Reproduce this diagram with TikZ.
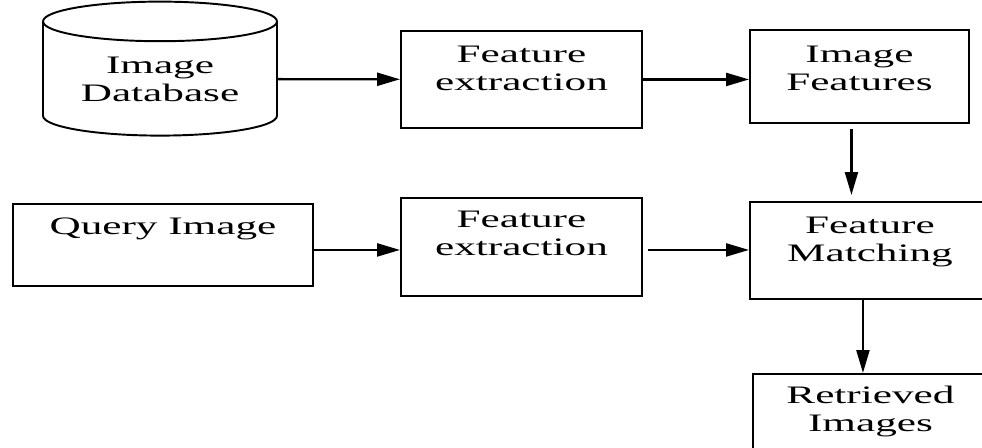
\documentclass[tikz,border=0pt]{standalone}
\usepackage{fontspec}
\newfontfamily\diagfont[FakeStretch=1.72]{Liberation Serif}
\usetikzlibrary{shapes.geometric,arrows.meta}

\begin{document}
\begin{tikzpicture}[x=0.02cm,y=-0.02cm,
  every node/.style={font=\diagfont\fontsize{14.3}{16}\selectfont, align=center, inner sep=0pt, line width=1.1pt},
  box/.style={draw, rectangle, anchor=north west},
  arr/.style={line width=1.3pt, -{Triangle[length=0.46cm,width=0.26cm]}}]
  \useasboundingbox (0,0) rectangle (982,448);
  % upper row
  \node[draw, cylinder, shape border rotate=90, aspect=0.25, minimum width=4.68cm, minimum height=2.68cm] (db) at (160,79) {Image\\Database};
  \node[box, minimum width=4.82cm, text height=1.2cm, text depth=0.74cm] (fe1) at (400,30) {Feature\\extraction};
  \node[box, minimum width=4.38cm, text height=1.22cm, text depth=0.64cm] (feat) at (749,29) {Image\\Features};
  % lower row
  \node[box, minimum width=6cm, text height=0.62cm, text depth=1.02cm] (query) at (12,203) {Query Image};
  \node[box, minimum width=4.82cm, text height=1.16cm, text depth=0.8cm] (fe2) at (400,197) {Feature\\extraction};
  \node[box, minimum width=4.8cm, text height=1.2cm, text depth=0.74cm] (match) at (749,201) {Feature\\Matching};
  \node[box, minimum width=4.7cm, text height=1.16cm, text depth=2cm] (retr) at (752,373) {Retrieved\\Images};
  % arrows
  \draw[arr] (db) -- (fe1);
  \draw[arr] (fe1.east) -- (fe1.east -| feat.west);
  \draw[arr] ([xshift=-0.16cm,yshift=-0.1cm]feat.south) -- ([xshift=-0.16cm,yshift=0.12cm]feat.south |- match.north);
  \draw[arr] ([yshift=-0.1cm]query.east) -- ([yshift=-0.1cm]query.east -| fe2.west);
  \draw[arr] ([xshift=0.1cm,yshift=-0.06cm]fe2.east) -- ([yshift=-0.06cm]fe2.east -| match.west);
  \draw[arr] ([xshift=-0.14cm]match.south) -- ([xshift=-0.14cm]match.south |- retr.north);
\end{tikzpicture}
\end{document}
